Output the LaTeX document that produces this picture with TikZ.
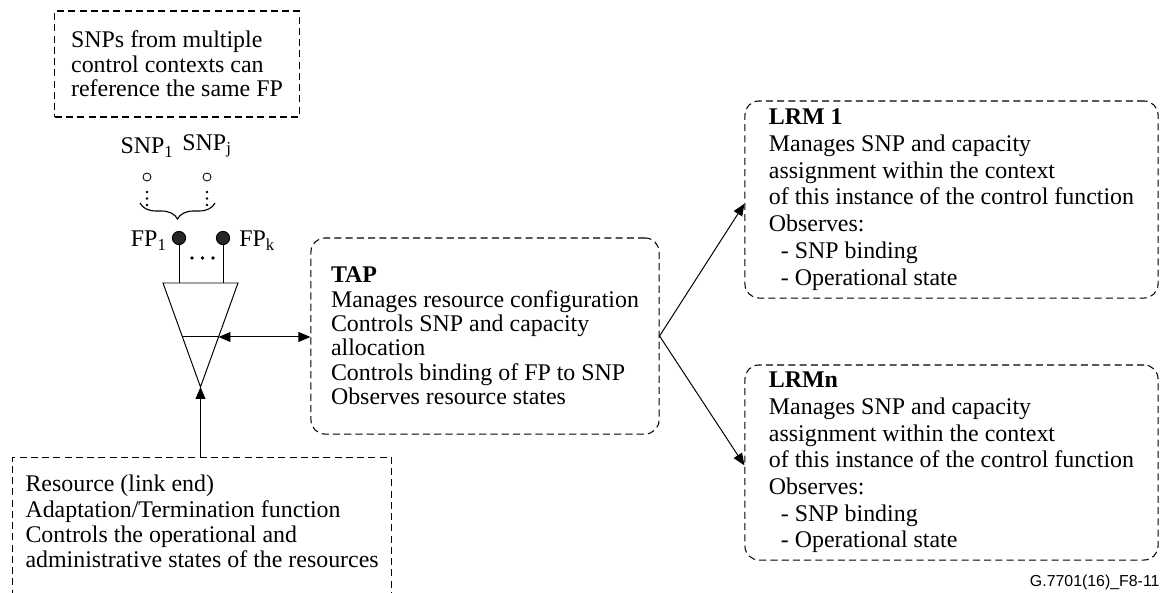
\documentclass[tikz,border=0pt]{standalone}
\usepackage{fontspec}
\setmainfont{Liberation Serif}
\newfontfamily\idFont{Liberation Sans}
\usetikzlibrary{positioning,calc,arrows.meta,decorations.pathreplacing}

\providecommand*{\boxFont}{}
\providecommand*{\triTop}{}
\providecommand*{\triMid}{}
\renewcommand*{\boxFont}{\fontsize{17}{18}\selectfont}
\renewcommand*{\triTop}{283}
\renewcommand*{\triMid}{0.519}

\begin{document}
\begin{tikzpicture}[x=0.025cm,y=-0.025cm,font=\boxFont,
    line width=0.7pt,
    dashbox/.style={draw,dash pattern=on 5pt off 3pt,line width=0.75pt,align=left,inner ysep=0pt,inner xsep=0.3cm},
    roundbox/.style={dashbox,rounded corners=0.35cm},
    tapbox/.style={roundbox,font=\fontsize{17}{17.3}\selectfont},
    lrmbox/.style={roundbox,font=\fontsize{17}{19}\selectfont,minimum width=10.325cm},
    snp/.style={circle,draw,line width=0.6pt,inner sep=0pt,minimum size=0.2cm},
    fp/.style={circle,draw,fill=black!85,inner sep=0pt,minimum size=0.33cm},
    lbl/.style={inner sep=0pt},
    arr/.style={-{Triangle[length=8.5pt,width=7pt]}},
    darr/.style={{Triangle[length=8.5pt,width=7pt]}-{Triangle[length=8.5pt,width=7pt]}}]
  \useasboundingbox (0,0) rectangle (1163,592);
  \clip (0,0) rectangle (1163,592);

%note on top
  \node [dashbox,font=\fontsize{17}{17.5}\selectfont,minimum width=6.1cm,minimum height=2.65cm] (note) at (177,64)
    {SNPs from multiple\\control contexts can\\reference the same FP};

%SNPs and FPs
  \node [snp] (snpA) at (147,177) {};
  \node [snp] (snpB) at (207,177) {};
  \node [lbl,above=0.37cm of snpA] (snpAlbl) {SNP\textsubscript{1}};
  \node [lbl,above=0.37cm of snpB] (snpBlbl) {SNP\textsubscript{j}};
  \foreach \k in {0,1,2} {
    \fill (snpA.center) ++(0,15+6.5*\k) circle (0.9pt);
    \fill (snpB.center) ++(0,15+6.5*\k) circle (0.9pt);
  }
  \draw [decorate,decoration={brace,mirror,amplitude=0.4cm},line width=0.8pt] (140,203) -- (215,203);

  \node [fp] (fpA) at (179,238) {};
  \node [fp] (fpB) at (223,238) {};
  \node [lbl,left=0.12cm of fpA,yshift=-2pt] (fpAlbl) {FP\textsubscript{1}};
  \node [lbl,right=0.22cm of fpB,yshift=-2pt] (fpBlbl) {FP\textsubscript{k}};
  \foreach \dx in {192,202.5,213}
    \fill (\dx,258) circle (1.3pt);

%triangle
  \coordinate (tl) at (163,\triTop);
  \coordinate (tr) at (238,\triTop);
  \coordinate (apex) at (200.5,387);
  \coordinate (mL) at ($(tl)!\triMid!(apex)$);
  \coordinate (mR) at ($(tr)!\triMid!(apex)$);
  \draw (fpA) -- (fpA |- tl);
  \draw (fpB) -- (fpB |- tr);
  \draw [line join=miter] (tl) -- (tr) -- (apex) -- cycle;
  \draw (mL) -- (mR);

%TAP and LRMs
  \node [tapbox,minimum width=8.7cm,minimum height=4.9cm] (tap) at (485,336)
    {\textbf{TAP}\\
     Manages resource configuration\\
     Controls SNP and capacity\\
     allocation\\
     Controls binding of FP to SNP\\
     Observes resource states};
  \node [lrmbox,minimum height=4.925cm] (lrmA) at (951.5,199.5)
    {\textbf{LRM 1}\\
     Manages SNP and capacity\\
     assignment within the context\\
     of this instance of the control function\\
     Observes:\\
     \hspace*{0.5em}- SNP binding\\
     \hspace*{0.5em}- Operational state};
  \node [lrmbox,minimum height=4.875cm] (lrmB) at (951.5,462.5)
    {\textbf{LRMn}\\
     Manages SNP and capacity\\
     assignment within the context\\
     of this instance of the control function\\
     Observes:\\
     \hspace*{0.5em}- SNP binding\\
     \hspace*{0.5em}- Operational state};

%resource box (runs off the bottom)
  \node [dashbox,anchor=north west,inner xsep=0.325cm,inner ysep=0.44cm] (res) at (12,457)
    {Resource (link end)\\
     Adaptation/Termination function\\
     Controls the operational and\\
     administrative states of the resources\\
     ~\\ ~};

%arrows
  \draw [arr] (res.north -| apex) -- (apex);
  \draw [darr] (mR) -- (mR -| tap.west);
  \draw [arr] (tap.east) -- ([yshift=-3pt]lrmA.west);
  \draw [arr] (tap.east) -- ([yshift=-2pt]lrmB.west);

  \node [font=\idFont\fontsize{11.3}{13}\selectfont,anchor=east,inner sep=0pt] (figid) at (1160,582)
    {G.7701(16)\_F8-11};
\end{tikzpicture}
\end{document}
